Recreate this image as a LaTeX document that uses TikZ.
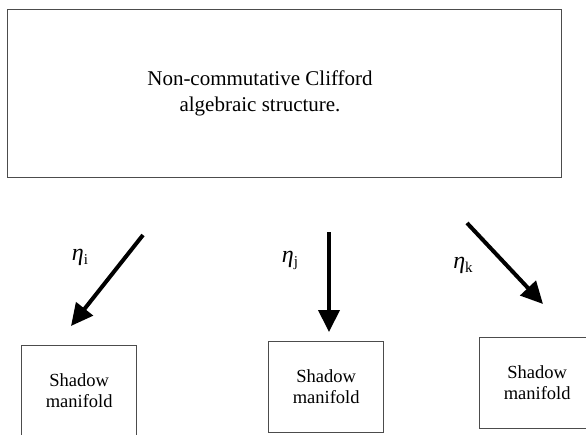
\documentclass[tikz,border=0pt]{standalone}
\usepackage{fontspec}
\setmainfont{Liberation Serif}
\usepackage{amsmath}
\usetikzlibrary{arrows.meta, positioning}
\tikzset{
	frame/.style={draw=black!70, line width=1.3pt, inner sep=0pt, align=center},
	algebra/.style={frame, minimum width=554pt, minimum height=168pt},
	shadow/.style={frame, minimum width=115pt, minimum height=91pt, font=\fontsize{18.5}{21}\selectfont},
	proj/.style={line width=4pt, -{Triangle[length=22pt, width=21pt]}},
	tag/.style={font=\fontsize{24}{24}\selectfont}
}
\newcommand{\etaof}[1]{\textit{η}\raisebox{-4pt}{\fontsize{15}{15}\selectfont #1}}

\begin{document}
\begin{tikzpicture}[x=1pt, y=-1pt]
			\useasboundingbox (0,0) rectangle (586,434);
			
			% ==========================================
			% Clifford structure
			% ==========================================
			\node[algebra, anchor=north west] (cliff) at (7,9) {};
			\node[align=center, font=\fontsize{21}{26}\selectfont] (clifftext) at (260,93) {Non-commutative Clifford\\algebraic structure.};
			
			% ==========================================
			% Shadow manifolds
			% ==========================================
			\node[shadow, anchor=north west] (mi) at (21,345) {Shadow\\manifold};
			\node[shadow, anchor=north west] (mj) at (268,341) {Shadow\\manifold};
			\node[shadow, anchor=north west] (mk) at (479,337) {Shadow\\manifold};
			
			% --- projections ---
			\coordinate (ai) at (143,235);
			\coordinate (bi) at (71,326);
			\coordinate (aj) at (329,232);
			\coordinate (bj) at (329,332);
			\coordinate (ak) at (467,223);
			\coordinate (bk) at (543,304);
			\draw[proj] (ai) -- (bi);
			\draw[proj] (aj) -- (bj);
			\draw[proj] (ak) -- (bk);
			
			\node[tag] (ei) at (80,257) {\etaof{i}};
			\node[tag] (ej) at (290,260) {\etaof{j}};
			\node[tag] (ek) at (463,265) {\etaof{k}};
			
		\end{tikzpicture}
\end{document}
